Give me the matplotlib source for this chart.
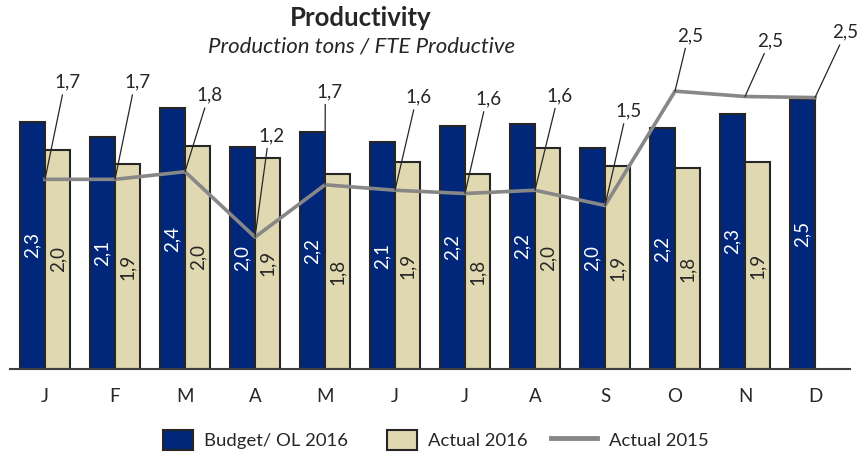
import matplotlib.pyplot as plt
from matplotlib.patches import Patch
from matplotlib.lines import Line2D
import numpy as np

plt.rcParams['font.family'] = ['Lato', 'DejaVu Sans']

months = ['J', 'F', 'M', 'A', 'M', 'J', 'J', 'A', 'S', 'O', 'N', 'D']
budget_2016 = [2.27, 2.13, 2.39, 2.04, 2.17, 2.08, 2.23, 2.25, 2.03, 2.21, 2.34, 2.48]
actual_2016 = [2.01, 1.88, 2.05, 1.94, 1.79, 1.90, 1.79, 2.03, 1.86, 1.84, 1.90, None]
actual_2015 = [1.74, 1.74, 1.81, 1.21, 1.69, 1.64, 1.61, 1.64, 1.50, 2.549, 2.50, 2.49]

# label offsets of the line labels (points)
lbl_dx = [16, 16, 18, 12, 3, 17, 17, 18, 17, 11, 18, 22]
lbl_dy = [70, 70, 55, 73, 67, 67, 68, 68, 68, 40, 40, 47]

navy = '#00277A'
beige = '#E0D8B0'
grey = '#878787'
edge = '#262626'


def fmt(v):
    return f'{v:.1f}'.replace('.', ',')


fig = plt.figure(figsize=(8.66, 4.54), dpi=100)
ax = fig.add_axes([10 / 866, 85 / 454, 840 / 866, 369 / 454])

x = np.arange(len(months))
w = 0.36
for i in range(len(months)):
    b = budget_2016[i]
    ax.bar(x[i] - w / 2, b, w, color=navy, edgecolor=edge, linewidth=1.5, zorder=2)
    ax.text(x[i] - w / 2, b / 2, fmt(b), rotation=90, ha='center', va='center',
            color='white', fontsize=13.5, zorder=3)
    a = actual_2016[i]
    if a is not None:
        ax.bar(x[i] + w / 2, a, w, color=beige, edgecolor=edge, linewidth=1.5, zorder=2)
        ax.text(x[i] + w / 2, a / 2, fmt(a), rotation=90, ha='center', va='center',
                color='#262626', fontsize=13.5, zorder=3)

ax.plot(x, actual_2015, color=grey, linewidth=2.6, zorder=4)
for i, v in enumerate(actual_2015):
    ax.annotate(fmt(v), xy=(x[i], v), xytext=(lbl_dx[i], lbl_dy[i]),
                textcoords='offset points', ha='center', va='center',
                fontsize=13.5, color='#262626', zorder=5,
                arrowprops=dict(arrowstyle='-', color='#262626', lw=0.9,
                                shrinkA=1, shrinkB=0, relpos=(0.35, 0.0)))

ax.set_xlim(-0.5, 11.5)
ax.set_ylim(0, 369 / 109)
ax.set_xticks(x)
ax.set_xticklabels(months, fontsize=13.5, color='#262626')
ax.tick_params(axis='x', length=0, pad=14)
ax.set_yticks([])
for s in ['top', 'left', 'right']:
    ax.spines[s].set_visible(False)
ax.spines['bottom'].set_color('#404040')
ax.spines['bottom'].set_linewidth(1.5)
ax.patch.set_visible(False)

fig.text(361 / 866, 1 - 18 / 454, 'Productivity', ha='center', va='center',
         fontsize=18.5, fontweight='bold', color='#262626')
fig.text(362 / 866, 1 - 47 / 454, 'Production tons / FTE Productive', ha='center',
         va='center', fontsize=16, style='italic', color='#262626')

# legend entries placed one by one
handles = [Patch(facecolor=navy, edgecolor=edge, linewidth=1.5),
           Patch(facecolor=beige, edgecolor=edge, linewidth=1.5),
           Line2D([0], [0], color=grey, linewidth=3.5)]
names = ['Budget/ OL 2016', 'Actual 2016', 'Actual 2015']
leg_x = [163, 387, 551]
leg_len = [1.62, 1.62, 2.5]
for h, n, lx, hl in zip(handles, names, leg_x, leg_len):
    fig.legend([h], [n], loc='center left',
               bbox_to_anchor=(lx / 866, 1 - 440 / 454), frameon=False,
               fontsize=13.3, handlelength=hl, handleheight=1.3,
               handletextpad=0.62, labelcolor='#262626',
               borderpad=0, borderaxespad=0)

fig.savefig('out.png', dpi=100)
